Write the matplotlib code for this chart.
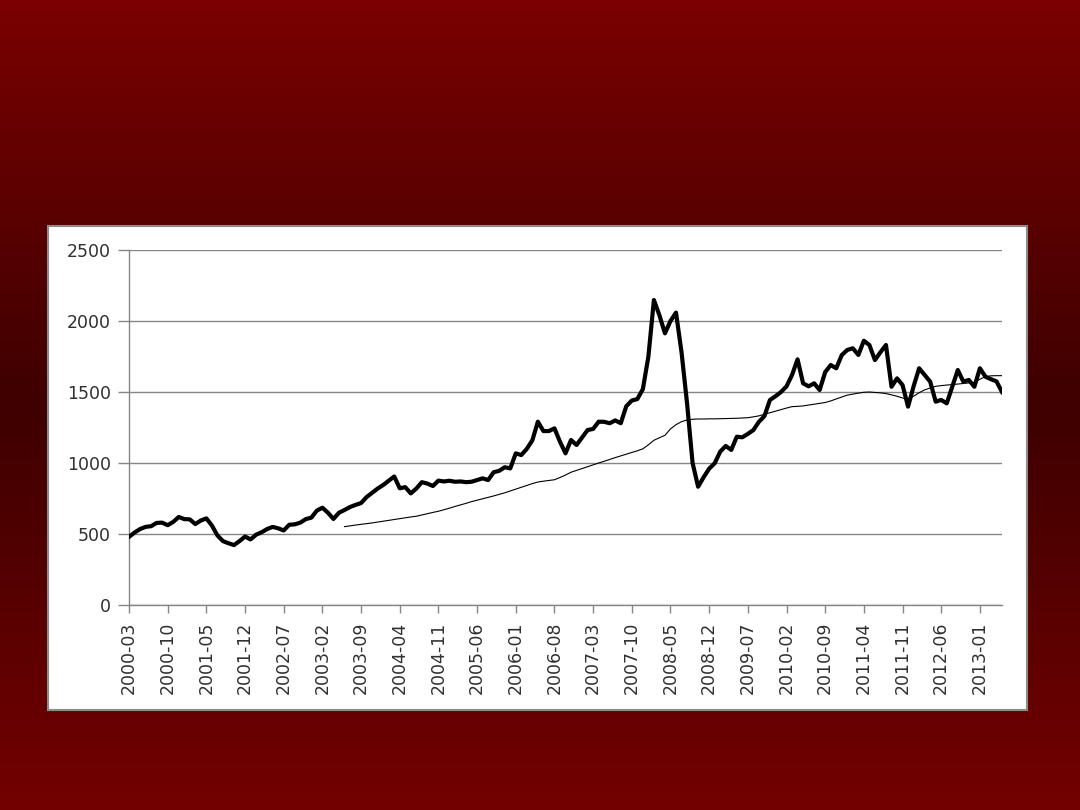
import numpy as np
import pandas as pd
import matplotlib
matplotlib.use("Agg")
import matplotlib.pyplot as plt
from matplotlib.patches import Rectangle
from matplotlib.colors import LinearSegmentedColormap

# ---------------- data ----------------
months = [p.strftime("%Y-%m") for p in pd.period_range("2000-03", "2013-05", freq="M")]

price = [
    480, 510, 535, 550, 555, 578, 580, 562, 585, 620,      # 2000-03 .. 2000-12
    605, 603, 570, 595, 610, 560, 490, 450, 435, 422,      # 2001-01 .. 2001-10
    450, 482, 462, 495, 512, 535, 550, 540, 525, 565,      # 2001-11 .. 2002-08
    568, 580, 605, 615, 665, 685, 650, 606, 650, 669,      # 2002-09 .. 2003-06
    690, 705, 718, 760, 790, 820, 845, 875, 905, 822,      # 2003-07 .. 2004-04
    830, 786, 820, 865, 855, 838, 876, 870, 875, 868,      # 2004-05 .. 2005-02
    870, 865, 868, 880, 892, 880, 935, 945, 970, 962,      # 2005-03 .. 2005-12
    1068, 1056, 1100, 1160, 1291, 1225, 1225, 1244, 1150, 1068,  # 2006-01 .. 2006-10
    1162, 1127, 1180, 1232, 1240, 1291, 1290, 1280, 1300, 1280,  # 2006-11 .. 2007-08
    1400, 1440, 1450, 1520, 1749, 2148, 2040, 1913, 2000, 2059,  # 2007-09 .. 2008-06
    1780, 1420, 1000, 833, 900, 960, 998, 1080, 1120, 1092,      # 2008-07 .. 2009-04
    1185, 1181, 1205, 1232, 1290, 1330, 1444, 1470, 1500, 1540,  # 2009-05 .. 2010-02
    1620, 1730, 1561, 1540, 1561, 1514, 1640, 1690, 1667, 1760,  # 2010-03 .. 2010-12
    1796, 1808, 1761, 1861, 1831, 1725, 1780, 1831, 1537, 1596,  # 2011-01 .. 2011-10
    1549, 1397, 1540, 1667, 1620, 1573, 1432, 1444, 1420, 1537,  # 2011-11 .. 2012-08
    1655, 1573, 1585, 1537, 1667, 1608, 1590, 1575, 1500,        # 2012-09 .. 2013-05
]

trend_start = "2003-06"
trend = [
    552, 557, 563, 568, 573, 578, 584, 590, 596, 602,
    608, 614, 620, 625, 634, 643, 652, 660, 671, 682,
    694, 705, 716, 728, 738, 748, 758, 768, 779, 790,
    803, 816, 829, 842, 855, 866, 872, 877, 882, 898,
    915, 935, 948, 961, 974, 987, 1000, 1012, 1025, 1038,
    1050, 1062, 1074, 1086, 1100, 1128, 1160, 1178, 1195, 1240,
    1270, 1291, 1303, 1308, 1310, 1310, 1311, 1311, 1312, 1313,
    1314, 1315, 1317, 1319, 1325, 1332, 1343, 1354, 1365, 1376,
    1387, 1397, 1399, 1402, 1408, 1414, 1420, 1426, 1437, 1451,
    1465, 1478, 1485, 1492, 1498, 1500, 1497, 1494, 1489, 1480,
    1470, 1458, 1448, 1470, 1495, 1515, 1528, 1540, 1545, 1549,
    1552, 1556, 1560, 1564, 1568, 1590, 1608, 1614, 1615, 1615,
]

tick_labels = ["2000-03", "2000-10", "2001-05", "2001-12", "2002-07", "2003-02",
               "2003-09", "2004-04", "2004-11", "2005-06", "2006-01", "2006-08",
               "2007-03", "2007-10", "2008-05", "2008-12", "2009-07", "2010-02",
               "2010-09", "2011-04", "2011-11", "2012-06", "2013-01"]
y_ticks = [0, 500, 1000, 1500, 2000, 2500]

# ---------------- figure ----------------
fig = plt.figure(figsize=(10.8, 8.1), dpi=100)

# slide background gradient
bg = fig.add_axes([0, 0, 1, 1], zorder=-10)
cmap = LinearSegmentedColormap.from_list(
    "slide", [(0.0, "#7a0000"), (0.5, "#3e0000"), (1.0, "#730000")])
grad = np.linspace(0, 1, 256).reshape(-1, 1)
bg.imshow(grad, aspect="auto", cmap=cmap, extent=[0, 1, 0, 1], origin="upper")
bg.set_axis_off()

# white chart box
fig.patches.append(Rectangle((48 / 1080, 1 - 710 / 810), 979 / 1080, 484 / 810,
                             transform=fig.transFigure, facecolor="white",
                             edgecolor="#8c8c8c", linewidth=1.5, zorder=-5))

ax = fig.add_axes([129 / 1080, 1 - 605 / 810, 873 / 1080, 355 / 810])
ax.set_facecolor("white")

x_all = np.arange(len(months))
ax.plot(x_all, price, color="black", linewidth=3.0, solid_joinstyle="round", zorder=4)
t0 = months.index(trend_start)
x_tr = np.arange(t0, t0 + len(trend))
ax.plot(x_tr, trend, color="black", linewidth=0.8, zorder=3)

ax.set_xlim(0, len(months) - 1)
ax.set_ylim(0, 2500)
ax.set_yticks(y_ticks)
ax.set_yticklabels([str(v) for v in y_ticks])
ax.set_xticks([months.index(t) for t in tick_labels])
ax.set_xticklabels(tick_labels, rotation=90)

ax.grid(axis="y", color="#868686", linewidth=1.0)
ax.set_axisbelow(True)
for s in ["top", "right"]:
    ax.spines[s].set_visible(False)
for s in ["left", "bottom"]:
    ax.spines[s].set_color("#868686")
    ax.spines[s].set_linewidth(1.0)
ax.tick_params(axis="both", colors="#868686", direction="out", width=1.0)
ax.tick_params(axis="y", length=8, pad=5)
ax.tick_params(axis="x", length=6, pad=6)
for lab in ax.get_xticklabels() + ax.get_yticklabels():
    lab.set_color("#303030")
    lab.set_fontsize(12.5)
    lab.set_family("DejaVu Sans")

fig.savefig("out.png", dpi=100)
